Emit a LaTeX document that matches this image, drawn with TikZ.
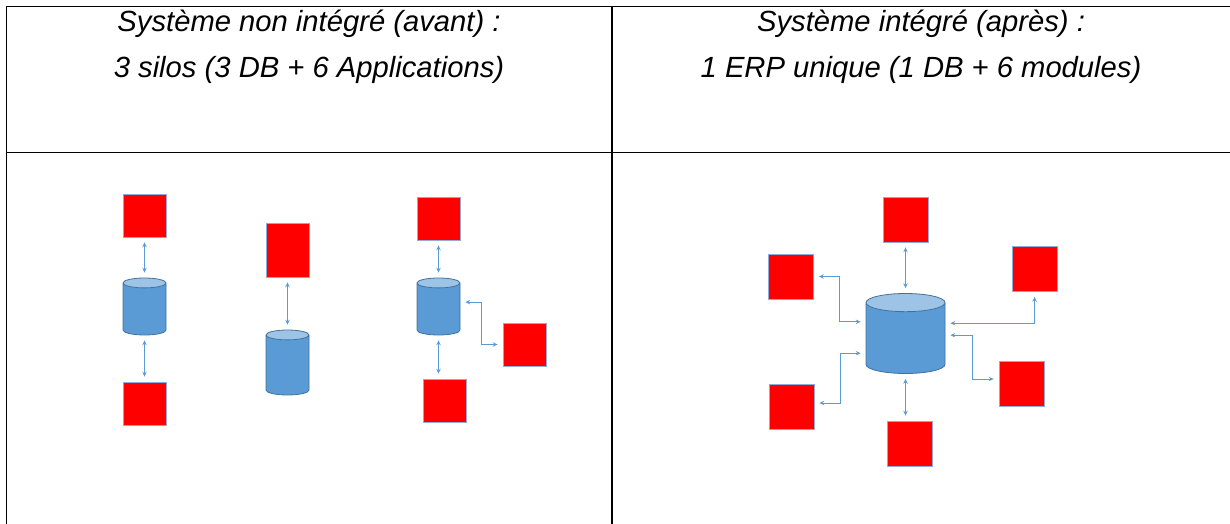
\documentclass[tikz,border=0pt]{standalone}
\usepackage{fontspec}
\setmainfont{Liberation Sans}
\usetikzlibrary{arrows.meta,positioning,shapes.geometric}
\definecolor{appred}{RGB}{255,0,0}
\definecolor{appedge}{RGB}{143,170,220}
\definecolor{dbbody}{RGB}{91,155,213}
\definecolor{dbtop}{RGB}{157,195,230}
\definecolor{dbedge}{RGB}{65,113,156}
\definecolor{linkblue}{RGB}{91,155,213}

\begin{document}
\begin{tikzpicture}[x=0.5pt,y=-0.5pt,
  app/.style={draw=appedge,line width=0.4pt,fill=appred,inner sep=0pt,minimum width=21.5pt,minimum height=21.5pt},
  bigapp/.style={app,minimum width=22.5pt,minimum height=22.5pt},
  db/.style={cylinder,shape border rotate=90,aspect=0.23,anchor=shape center,draw=dbedge,line width=0.4pt,cylinder uses custom fill,cylinder body fill=dbbody,cylinder end fill=dbtop,inner xsep=10.75pt,inner ysep=0pt,minimum width=21.5pt},
  link/.style={draw=linkblue,line width=0.45pt,{Stealth[length=2.4pt,width=2.2pt]}-{Stealth[length=2.4pt,width=2.2pt]},shorten <=2.5pt,shorten >=2.5pt},
  title/.style={font=\fontsize{14.6}{17}\selectfont\itshape,anchor=base}]
	  \useasboundingbox (0,0) rectangle (1230,524);

	  \draw[line width=0.8pt] (6.5,540) -- (6.5,6.5) -- (1240,6.5);
	  \draw[line width=0.8pt] (6.5,152.5) -- (1240,152.5);
	  \draw[line width=0.8pt] (612,6.5) -- (612,540);

	  \node[title] (hdL1) at (309,32) {Système non intégré (avant) :};
	  \node[title] (hdL2) at (309,78) {3 silos (3 DB + 6 Applications)};
	  \node[title] (hdR1) at (921,32) {Système intégré (après) :};
	  \node[title] (hdR2) at (921,78) {1 ERP unique (1 DB + 6 modules)};

	  \node[app] (appA1) at (144.5,215.5) {};
	  \node[db,minimum height=28.5pt] (dbA) at (144.5,306.5) {};
	  \node[app] (appA2) at (144.5,403.5) {};
	  \node[app,minimum height=27pt] (appB1) at (287.5,250) {};
	  \node[db,minimum height=32.5pt] (dbB) at (287.5,362.5) {};
	  \node[app] (appC1) at (438.5,218.5) {};
	  \node[db,minimum height=28.5pt] (dbC) at (438.5,306.5) {};
	  \node[app] (appC2) at (444.5,400.5) {};
	  \node[app] (appC3) at (524.5,344.5) {};

	  \draw[link] (appA1) -- (dbA);
	  \draw[link] (dbA) -- (appA2);
	  \draw[link] (appB1) -- (dbB);
	  \draw[link] (appC1) -- (dbC);
	  \draw[link] (dbC) -- (dbC |- appC2.north);
	  \draw[link] ([yshift=4.75pt]dbC.east) -- ++(21,0) |- (appC3.west);

	  \node[db,inner xsep=19.75pt,minimum width=39.5pt,minimum height=40pt] (erp) at (905.5,333.5) {};
	  \node[bigapp] (appT) at (905.5,219.5) {};
	  \node[bigapp] (appLT) at (791,276.5) {};
	  \node[bigapp] (appRT) at (1034.5,269) {};
	  \node[bigapp] (appRB) at (1021.5,383.5) {};
	  \node[bigapp] (appLB) at (791.5,406.5) {};
	  \node[bigapp] (appB) at (909.5,443.5) {};

	  \draw[link] (appT) -- (erp);
	  \draw[link] (erp) -- (erp |- appB.north);
	  \draw[link] (appLT.east) -- ++(26,0) |- ([yshift=10.5pt]erp.west);
	  \draw[link] (appRT.south) |- ([yshift=9.8pt]erp.east);
	  \draw[link] ([yshift=3.8pt]erp.east) -- ++(27,0) |- ([yshift=2.25pt]appRB.west);
	  \draw[link] ([yshift=-5.2pt]erp.west) -- ++(-25,0) |- ([yshift=1.75pt]appLB.east);
\end{tikzpicture}
\end{document}
